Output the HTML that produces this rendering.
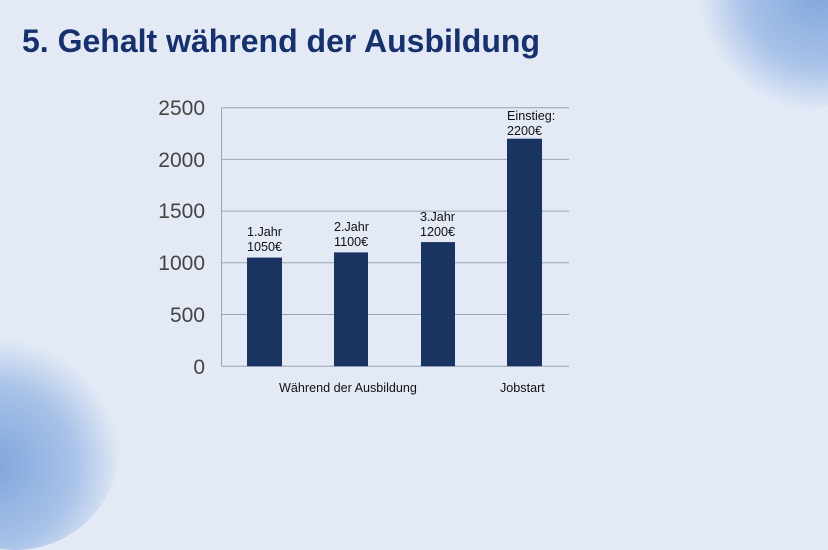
<!DOCTYPE html>
<html><head><meta charset="utf-8"><style>
html,body{margin:0;padding:0;}
body{width:828px;height:466px;overflow:hidden;background:#e3eaf6;position:relative;font-family:"Liberation Sans",sans-serif;}
.blob1{position:absolute;left:700px;top:-90px;width:200px;height:200px;border-radius:50%;background:radial-gradient(circle at 60% 40%,#7fa6dc 0%,#a9c2e8 45%,rgba(227,234,246,0) 72%);}
.blob2{position:absolute;left:-90px;top:340px;width:210px;height:210px;border-radius:50%;background:radial-gradient(circle at 40% 60%,#7fa6dc 0%,#a9c2e8 45%,rgba(227,234,246,0) 72%);}
h1{position:absolute;left:22px;top:23px;margin:0;font-size:32px;font-weight:bold;color:#17306e;white-space:nowrap;}
svg{position:absolute;left:0;top:0;}
</style></head><body>
<div class="blob1"></div><div class="blob2"></div>
<h1>5. Gehalt während der Ausbildung</h1>
<svg width="828" height="466" font-family="Liberation Sans, sans-serif">
<g stroke="#9aa4b4" stroke-width="1">
<line x1="221.5" y1="107.7" x2="569" y2="107.7"/>
<line x1="221.5" y1="159.4" x2="569" y2="159.4"/>
<line x1="221.5" y1="211.1" x2="569" y2="211.1"/>
<line x1="221.5" y1="262.8" x2="569" y2="262.8"/>
<line x1="221.5" y1="314.5" x2="569" y2="314.5"/>
<line x1="221.5" y1="366.2" x2="569" y2="366.2"/>
<line x1="221.5" y1="107.7" x2="221.5" y2="366.2"/>
</g>
<g fill="#444" font-size="21" text-anchor="end">
<text x="205" y="115">2500</text><text x="205" y="167">2000</text><text x="205" y="218">1500</text>
<text x="205" y="270">1000</text><text x="205" y="322">500</text><text x="205" y="374">0</text>
</g>
<g fill="#1a3462">
<rect x="247" y="257.6" width="35" height="108.6"/>
<rect x="334" y="252.4" width="34" height="113.8"/>
<rect x="421" y="242.1" width="34" height="124.1"/>
<rect x="507" y="138.7" width="35" height="227.5"/>
</g>
<g fill="#111" font-size="12.6">
<text x="247" y="236">1.Jahr</text><text x="247" y="251">1050€</text>
<text x="334" y="231">2.Jahr</text><text x="334" y="246">1100€</text>
<text x="420" y="221">3.Jahr</text><text x="420" y="236">1200€</text>
<text x="507" y="120">Einstieg:</text><text x="507" y="135">2200€</text>
<text x="279" y="392">Während der Ausbildung</text>
<text x="500" y="392">Jobstart</text>
</g>
</svg>
</body></html>
